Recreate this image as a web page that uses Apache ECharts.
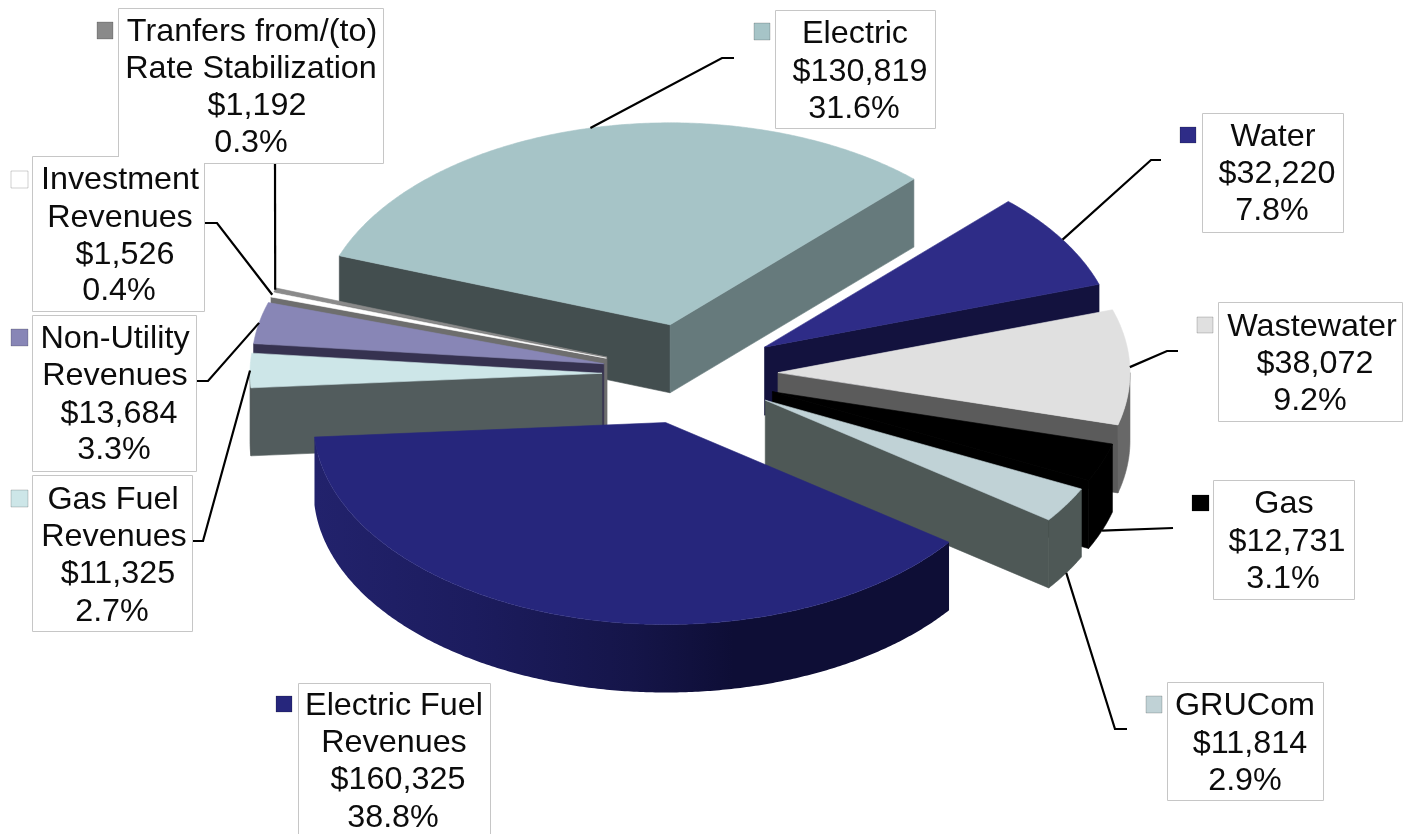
<!DOCTYPE html>
<html>
<head>
<meta charset="utf-8">
<style>html,body{margin:0;padding:0;background:#fff}#chart{width:1404px;height:834px}</style>
<script src="https://cdn.jsdelivr.net/npm/echarts@6/dist/echarts.min.js"></script>
</head>
<body>
<div id="chart"></div>
<script>
// Revenue by source, in thousands of dollars, clockwise from the Electric slice.
const labelNames = [
  ['Electric'], ['Water'], ['Wastewater'], ['Gas'], ['GRUCom'],
  ['Electric Fuel', 'Revenues'], ['Gas Fuel', 'Revenues'], ['Non-Utility', 'Revenues'],
  ['Investment', 'Revenues'], ['Tranfers from/(to)', 'Rate Stabilization']
];
const revenues = [130819, 32220, 38072, 12731, 11814, 160325, 11325, 13684, 1526, 1192];

// Slice colours: top face, start wall, end wall, rim.
const topColors   = ['#a6c4c7', '#2e2c87', '#e0e0e0', '#000000', '#c0d2d6', '#26267c', '#cde6e8', '#8886b6', '#ffffff', '#8a8a8a'];
const startWalls  = ['#434e4f', '#13123e', '#5b5b5b', '#000000', '#4e5856', '#13123e', '#525c5d', '#363250', '#6e6e6e', '#6a6a6a'];
const endWalls    = ['#667a7c', '#13123e', '#5b5b5b', '#000000', '#4e5856', '#13123e', '#525c5d', '#363250', '#6e6e6e', '#6a6a6a'];
const rimColors   = ['#667a7c', '#13123e', '#686868', '#000000', '#4e5856', null, '#525c5d', '#363250', '#6e6e6e', '#6a6a6a'];
const fuelRimStops = [[0, '#22226c'], [0.25, '#1c1c5e'], [0.5, '#151549'], [0.66, '#0e0e36'], [1, '#0e0e36']];

// Pie geometry on the page.
const PIE = { cx: 690, cy: 374, rx: 352, ry: 202, depth: 68, explode: 88, start: -70 };

// Callout layout: frame [x, y, w, h], key square [x, y, w, h], per-line centre x and baseline y.
const frames = [
  [775.5, 10.5, 160, 118], [1202.5, 113.5, 141, 119], [1218.5, 302.5, 184, 119], [1213.5, 480.5, 141, 119], [1167.5, 682.5, 156, 118],
  [298.5, 683.5, 192, 170], [32.5, 475.5, 160, 156], [32.5, 315.5, 164, 156], [32.5, 156.5, 172, 155], [118.5, 8.5, 265, 155]
];
const keys = [
  [754, 23, 16, 17], [1180, 127, 16, 16], [1197, 317, 16, 16], [1192, 495, 17, 16], [1146, 696, 16, 17],
  [276, 696, 16, 16], [11, 490, 17, 17], [11, 329, 17, 17], [11, 171, 17, 17], [97, 22, 16, 17]
];
const lineCentres = [
  [855, 860, 854], [1273, 1277, 1272], [1312, 1315, 1310], [1284, 1287, 1283], [1245, 1250, 1245],
  [394, 394, 398, 393], [113, 114, 118, 112], [115, 115, 119, 114], [120, 120, 125, 119], [252, 251, 257, 251]
];
const lineBaselines = [
  [43, 81, 118], [146, 183, 220], [336, 373, 410], [513, 551, 588], [715, 753, 790],
  [715, 752, 789, 827], [509, 546, 583, 621], [348, 385, 423, 459], [189, 227, 264, 300], [41, 78, 115, 152]
];
// Distance from a text baseline down to the bottom of its 30px line box.
const BASELINE_DROP = 7;
// Leader lines start at the frame and pass through an elbow before reaching the slice.
const leaderAnchors = [
  [[734, 58], [722, 58]], [[1161, 160], [1151, 160]], [[1178, 351], [1167, 351]], [[1173, 528], [1173, 528]], [[1127, 729], [1115, 729]],
  null, [[193, 541], [203, 541]], [[197, 381], [208, 381]], [[205, 223], [217, 223]], [[275, 164], [275, 164]]
];

const total = revenues.reduce((a, b) => a + b, 0);
const DEG = Math.PI / 180;
const angles = [];
revenues.reduce((from, v) => {
  const to = from + v / total * 360;
  angles.push([from, to]);
  return to;
}, PIE.start);

function sliceCentre(i) {
  const mid = (angles[i][0] + angles[i][1]) / 2 * DEG;
  return [
    PIE.cx + PIE.explode * Math.sin(mid),
    PIE.cy - PIE.explode * (PIE.ry / PIE.rx) * Math.cos(mid)
  ];
}
function rimPoint(c, t, drop) {
  return [c[0] + PIE.rx * Math.sin(t * DEG), c[1] - PIE.ry * Math.cos(t * DEG) + (drop || 0)];
}
function arcPoints(c, a, b, drop) {
  const n = Math.max(2, Math.ceil(Math.abs(b - a) * 2));
  const pts = [];
  for (let k = 0; k <= n; k++) pts.push(rimPoint(c, a + (b - a) * k / n, drop));
  return pts;
}
function poly(points, fill) {
  return {
    type: 'polygon',
    shape: { points },
    style: { fill, stroke: typeof fill === 'string' ? fill : null, lineWidth: 0.6 },
    silent: true
  };
}
function wall(c, t, color) {
  const p = rimPoint(c, t);
  const d = PIE.depth;
  return poly([c, p, [p[0], p[1] + d], [c[0], c[1] + d]], color);
}
// The front-facing part of the rim lies between 90 and 270 degrees.
function rimWall(i, c, a, b) {
  const lo = Math.max(a, 90), hi = Math.min(b, 270);
  if (hi <= lo) return null;
  const pts = arcPoints(c, lo, hi).concat(arcPoints(c, hi, lo, PIE.depth));
  const fill = rimColors[i] || {
    type: 'linear', x: 0, y: 0, x2: 1, y2: 0,
    colorStops: fuelRimStops.map(s => ({ offset: s[0], color: s[1] }))
  };
  return poly(pts, fill);
}
function renderSlice(params) {
  const i = params.dataIndex === undefined ? 0 : drawOrder[params.dataIndex];
  const c = sliceCentre(i);
  const [a, b] = angles[i];
  const parts = [];
  if (Math.sin(a * DEG) < 0) parts.push(wall(c, a, startWalls[i]));
  if (Math.sin(b * DEG) > 0) parts.push(wall(c, b, endWalls[i]));
  const rim = rimWall(i, c, a, b);
  if (rim) parts.push(rim);
  parts.push(poly([c].concat(arcPoints(c, a, b)), topColors[i]));
  return { type: 'group', children: parts };
}
function renderLeader(params) {
  const i = params.dataIndex;
  if (!leaderAnchors[i]) return null;
  const c = sliceCentre(i);
  const mid = (angles[i][0] + angles[i][1]) / 2;
  const front = mid > 90 && mid < 270;
  const end = rimPoint(c, mid, front ? PIE.depth : 0);
  return {
    type: 'polyline',
    shape: { points: leaderAnchors[i].concat([end]) },
    style: { stroke: '#000', lineWidth: 2.2, fill: null },
    silent: true
  };
}
function frameRect(i, inset, style) {
  const f = frames[i];
  return {
    type: 'rect',
    shape: { x: f[0] + inset, y: f[1] + inset, width: f[2] - 2 * inset, height: f[3] - 2 * inset },
    style, silent: true
  };
}
function renderFrame(params) {
  return frameRect(params.dataIndex, 0, { fill: '#fff', stroke: '#c6c6c6', lineWidth: 1 });
}
function renderFill(params) {
  return frameRect(params.dataIndex, 0.5, { fill: '#fff' });
}
function renderCallout(params) {
  const i = params.dataIndex;
  const lines = labelNames[i].concat([
    '$' + revenues[i].toLocaleString('en-US'),
    (revenues[i] / total * 100).toFixed(1) + '%'
  ]);
  const k = keys[i];
  const children = [{
    type: 'rect',
    shape: { x: k[0], y: k[1], width: k[2], height: k[3] },
    style: { fill: topColors[i], stroke: 'rgba(0,0,0,0.18)', lineWidth: 1 },
    silent: true
  }];
  lines.forEach((text, n) => {
    children.push({
      type: 'text',
      x: lineCentres[i][n],
      y: lineBaselines[i][n] + BASELINE_DROP,
      scaleX: 1.06,
      style: {
        text,
        fill: '#0c0c0c',
        font: '30.5px "Liberation Sans", Arial, sans-serif',
        align: 'center',
        verticalAlign: 'bottom',
        lineHeight: 30
      },
      silent: true
    });
  });
  return { type: 'group', children };
}

// Back slices are painted first so nearer ones overlap them.
const drawOrder = revenues.map((_, i) => i).sort((p, q) => {
  const midCos = j => Math.cos((angles[j][0] + angles[j][1]) / 2 * DEG);
  return midCos(q) - midCos(p);
});

function customSeries(renderItem, data) {
  return { type: 'custom', coordinateSystem: 'none', renderItem, data, silent: true, animation: false, clip: false };
}
const chart = echarts.init(document.getElementById('chart'), null, { renderer: 'canvas' });
chart.setOption({
  animation: false,
  backgroundColor: '#fff',
  tooltip: { show: false },
  series: [
    customSeries(renderSlice, drawOrder.map(i => revenues[i])),
    customSeries(renderLeader, revenues),
    customSeries(renderFrame, revenues),
    customSeries(renderFill, revenues),
    customSeries(renderCallout, revenues)
  ]
});
</script>
</body>
</html>
